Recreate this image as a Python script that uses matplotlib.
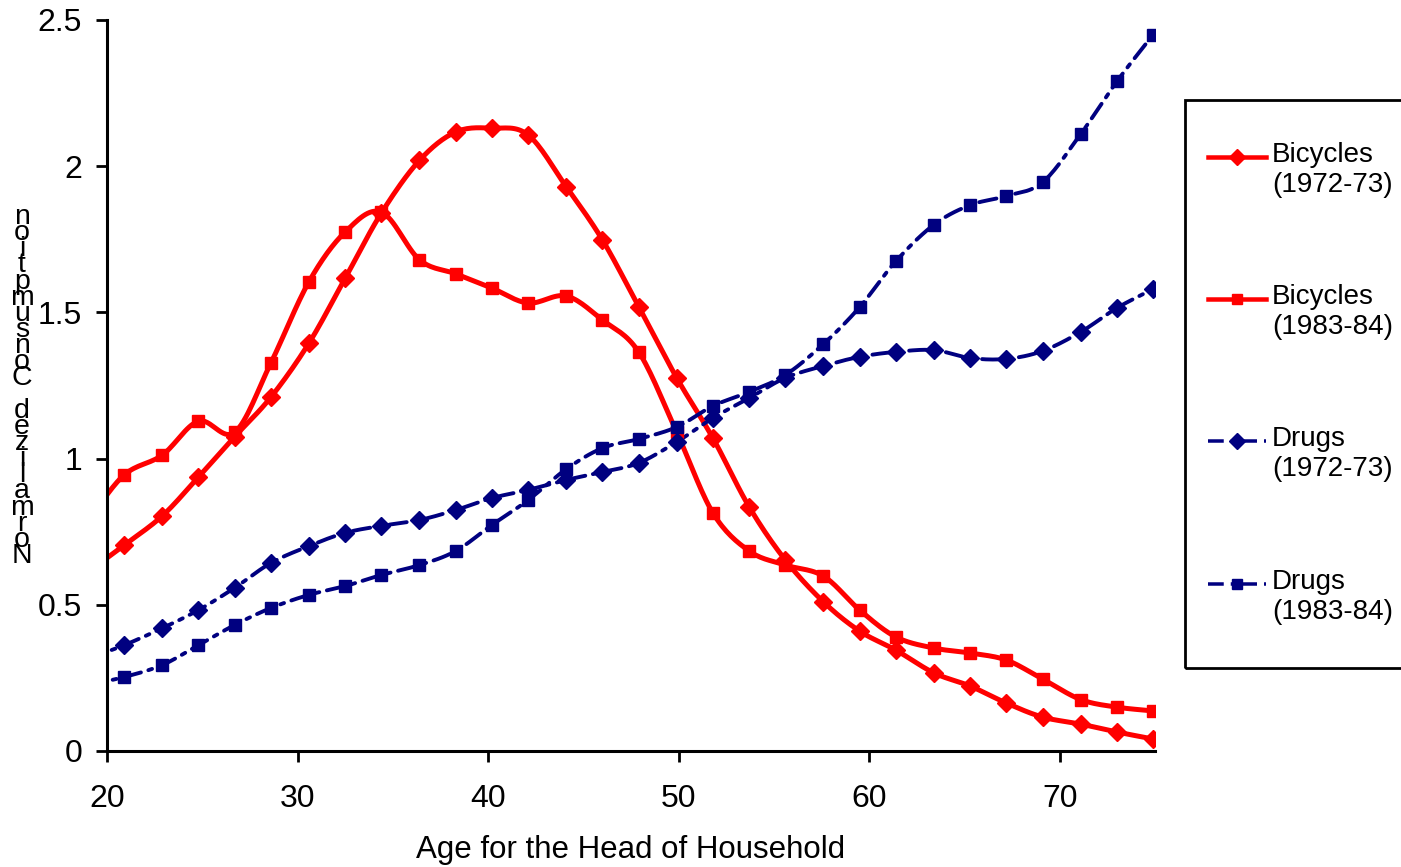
import numpy as np
import matplotlib
matplotlib.use("Agg")
import matplotlib.pyplot as plt
from matplotlib.lines import Line2D
from matplotlib.patches import Rectangle

plt.rcParams['font.family'] = ['Liberation Sans', 'DejaVu Sans']

# ---------------- data ----------------
ages = [19.0, 20.9, 22.9, 24.8, 26.7, 28.6, 30.6, 32.5, 34.4, 36.4, 38.3, 40.2,
        42.1, 44.1, 46.0, 47.9, 49.9, 51.8, 53.7, 55.6, 57.6, 59.5, 61.4, 63.4,
        65.3, 67.2, 69.1, 71.1, 73.0, 74.9]

bicycles_7273 = [0.612, 0.704, 0.804, 0.937, 1.075, 1.21, 1.395, 1.617, 1.84, 2.02,
                 2.117, 2.13, 2.107, 1.93, 1.748, 1.52, 1.276, 1.07, 0.835, 0.653,
                 0.51, 0.41, 0.345, 0.267, 0.222, 0.164, 0.116, 0.092, 0.065, 0.041]
bicycles_8384 = [0.788, 0.944, 1.012, 1.128, 1.09, 1.327, 1.605, 1.775, 1.843, 1.68,
                 1.632, 1.583, 1.532, 1.556, 1.474, 1.365, 1.09, 0.814, 0.684, 0.636,
                 0.598, 0.482, 0.39, 0.352, 0.335, 0.311, 0.246, 0.176, 0.15, 0.137]
drugs_7273 = [0.316, 0.362, 0.42, 0.482, 0.558, 0.643, 0.701, 0.746, 0.77, 0.79,
              0.824, 0.865, 0.893, 0.927, 0.954, 0.985, 1.057, 1.139, 1.207, 1.276,
              1.317, 1.348, 1.365, 1.371, 1.344, 1.341, 1.368, 1.433, 1.515, 1.58]
drugs_8384 = [0.226, 0.253, 0.294, 0.362, 0.431, 0.489, 0.534, 0.564, 0.602, 0.636,
              0.684, 0.773, 0.858, 0.964, 1.036, 1.067, 1.108, 1.18, 1.228, 1.286,
              1.392, 1.518, 1.675, 1.80, 1.867, 1.898, 1.945, 2.11, 2.29, 2.45]

labels = ["Bicycles\n(1972-73)", "Bicycles\n(1983-84)", "Drugs\n(1972-73)", "Drugs\n(1983-84)"]
x_ticks = [20, 30, 40, 50, 60, 70]
y_ticks = [0, 0.5, 1, 1.5, 2, 2.5]
y_tick_labels = ["0", "0.5", "1", "1.5", "2", "2.5"]
xlabel = "Age for the Head of Household"
ylabel = "Normalized Consumption"

RED = "#FF0000"
NAVY = "#000080"


def smooth(x, y, n=16):
    """Catmull-Rom curve through the given points (Excel-like smoothed line)."""
    x = np.asarray(x, float)
    y = np.asarray(y, float)
    px = np.concatenate([[2 * x[0] - x[1]], x, [2 * x[-1] - x[-2]]])
    py = np.concatenate([[2 * y[0] - y[1]], y, [2 * y[-1] - y[-2]]])
    xs, ys = [], []
    t = np.linspace(0, 1, n, endpoint=False)
    for i in range(1, len(px) - 2):
        for arr, out in ((px, xs), (py, ys)):
            p0, p1, p2, p3 = arr[i - 1], arr[i], arr[i + 1], arr[i + 2]
            out.extend(0.5 * ((2 * p1) + (-p0 + p2) * t +
                              (2 * p0 - 5 * p1 + 4 * p2 - p3) * t ** 2 +
                              (-p0 + 3 * p1 - 3 * p2 + p3) * t ** 3))
    xs.append(x[-1])
    ys.append(y[-1])
    return np.array(xs), np.array(ys)


fig = plt.figure(figsize=(14.01, 8.67), dpi=100)
ax = fig.add_axes([107 / 1401, 1 - 751 / 867, (1155 - 107) / 1401, (751 - 20) / 867])

DASHDOT = (0, (4.5, 2.0, 1.0, 2.0))
series = [
    (bicycles_7273, RED, '-', 'D', 9.5, 3.6),
    (bicycles_8384, RED, '-', 's', 9, 3.6),
    (drugs_7273, NAVY, DASHDOT, 'D', 9, 2.8),
    (drugs_8384, NAVY, DASHDOT, 's', 8.5, 2.8),
]

for vals, col, ls, mk, ms, lw in series:
    sx, sy = smooth(ages, vals)
    ax.plot(sx, sy, color=col, linestyle=ls, linewidth=lw, solid_capstyle='round',
            dash_capstyle='round', zorder=2)
    ax.plot(ages, vals, linestyle='none', marker=mk, markersize=ms, color=col,
            markeredgecolor=col, zorder=3)

ax.set_xlim(20, 75)
ax.set_ylim(0, 2.5)
ax.set_xticks(x_ticks)
ax.set_yticks(y_ticks)
ax.set_yticklabels(y_tick_labels)
ax.tick_params(axis='both', direction='out', length=8, width=2, labelsize=23,
               color='black', labelcolor='black')
ax.tick_params(axis='x', pad=16)
ax.tick_params(axis='y', pad=10)
for s in ['top', 'right']:
    ax.spines[s].set_visible(False)
for s in ['left', 'bottom']:
    ax.spines[s].set_linewidth(2.2)
    ax.spines[s].set_color('black')
ax.set_xlabel(xlabel, fontsize=22.5, labelpad=15)

# stacked, upright y-label characters (bottom to top)
chars = list(ylabel)
top_px, bot_px = 217, 556
n = len(chars)
for i, ch in enumerate(chars):
    ypx = bot_px - i * (bot_px - top_px) / (n - 1)
    fig.text(22 / 1401, 1 - ypx / 867, ch, fontsize=20.5, ha='center', va='center')

# legend (drawn manually)
fig.add_artist(Rectangle((1185 / 1401, 1 - 668 / 867), 0.2, (668 - 100) / 867,
                         transform=fig.transFigure, fill=False, edgecolor='black',
                         linewidth=2, clip_on=False))
entry_top = [157, 299, 441, 584]
for (vals, col, ls, mk, ms, lw), lab, ypx in zip(series, labels, entry_top):
    yf = 1 - ypx / 867
    fig.add_artist(Line2D([1208 / 1401, 1266 / 1401], [yf, yf], transform=fig.transFigure,
                          color=col, linestyle=ls, linewidth=lw * 0.9))
    fig.add_artist(Line2D([1237 / 1401], [yf], transform=fig.transFigure,
                          color=col, marker=mk, markersize=ms * 0.85, linestyle='none'))
    fig.text(1272 / 1401, yf + 15 / 867, lab, fontsize=20, ha='left', va='top',
             linespacing=1.2)

fig.savefig("out.png", dpi=100)
